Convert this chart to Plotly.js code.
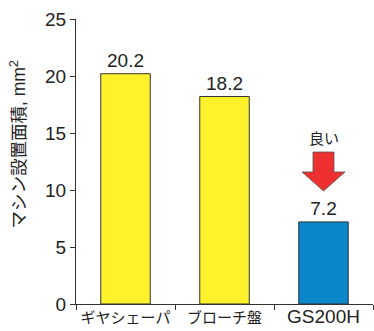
<!DOCTYPE html>
<html>
<head>
<meta charset="utf-8">
<script src="https://cdn.plot.ly/plotly-3.0.1.min.js"></script>
<style>html,body{margin:0;padding:0;background:#fff}#chart{width:374px;height:331px}</style>
</head>
<body>
<div id="chart"></div>
<script>
var categories = ["ギヤシェーパ", "ブローチ盤", "GS200H"];
var areaValues = [20.2, 18.2, 7.2];
var barColors = ["#FFF12B", "#FFF12B", "#0A87CA"];
var yTicks = [0, 5, 10, 15, 20, 25];

var F = "Liberation Sans, Arial, Noto Sans CJK JP, sans-serif";

var trace = {
  type: "bar",
  x: categories,
  y: areaValues,
  width: 0.5,
  marker: {color: barColors, line: {color: "#333", width: 1}},
  text: areaValues.map(function(v){ return v.toFixed(1); }),
  textposition: "outside",
  textfont: {family: F, size: 19, color: "#222"},
  cliponaxis: false,
  hoverinfo: "none"
};

var ci = 2;
var arrowPath = "M " + (ci - 0.106) + " 13.33 L " + (ci + 0.106) + " 13.33 L " + (ci + 0.106) + " 11.58 L " +
  (ci + 0.217) + " 11.58 L " + ci + " 9.91 L " + (ci - 0.217) + " 11.58 L " + (ci - 0.106) + " 11.58 Z";

var layout = {
  width: 374, height: 331,
  margin: {l: 76, r: 1, t: 19, b: 27, pad: 0},
  paper_bgcolor: "#fff", plot_bgcolor: "#fff",
  showlegend: false,
  xaxis: {
    type: "category",
    range: [-0.5, 2.5],
    tickvals: categories,
    ticktext: categories.map(function(c){
      return /^[A-Za-z0-9]+$/.test(c) ? '<span style="font-size:19px">' + c + '</span>' : c;
    }),
    showline: true, linecolor: "#333", linewidth: 1,
    ticks: "outside", tickson: "boundaries", ticklen: 5, tickcolor: "#333",
    tickfont: {family: F, size: 15, color: "#222"},
    showgrid: false, zeroline: false,
    fixedrange: true
  },
  yaxis: {
    range: [0, 25],
    tickvals: yTicks,
    ticktext: yTicks.map(String),
    showline: true, linecolor: "#333", linewidth: 1,
    ticks: "outside", ticklen: 5, tickcolor: "#333",
    tickfont: {family: F, size: 19, color: "#222"},
    showgrid: false, zeroline: false,
    fixedrange: true
  },
  shapes: [{
    type: "path", xref: "x", yref: "y", path: arrowPath,
    fillcolor: "#EE3030", line: {color: "#555", width: 0.8}
  }],
  annotations: [
    {xref: "x", yref: "y", x: ci, y: 14.56, text: "良い", showarrow: false,
     font: {family: F, size: 15, color: "#222"}},
    {xref: "paper", yref: "paper", x: -0.195, xanchor: "center", y: 0.56, yanchor: "middle",
     text: "マシン設置面積, mm<sup>2</sup>", textangle: -90, showarrow: false,
     font: {family: F, size: 17.5, color: "#222"}}
  ]
};

Plotly.newPlot("chart", [trace], layout, {displayModeBar: false, staticPlot: true});
</script>
</body>
</html>
